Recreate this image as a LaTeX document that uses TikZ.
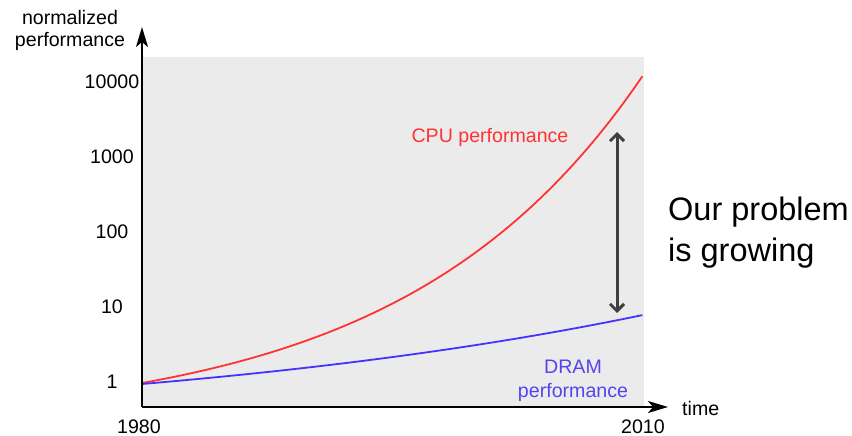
\documentclass[tikz,border=0pt]{standalone}
\usepackage{fontspec}
\setmainfont{Liberation Sans}
\usetikzlibrary{arrows.meta}
\definecolor{plotbg}{HTML}{EBEBEB}
\definecolor{cpured}{HTML}{FF3333}
\definecolor{dramblue}{HTML}{4433FF}
\definecolor{dramtext}{HTML}{5544EE}
\definecolor{gaparrow}{HTML}{3F3F3F}
\begin{document}
\begin{tikzpicture}[x=1pt,y=-1pt,
  lbl/.style={font=\fontsize{19.6}{22}\selectfont, inner sep=0pt},
  big/.style={font=\fontsize{32.5}{36}\selectfont, inner sep=0pt, anchor=base west},
  axisline/.style={line width=2pt, -{Stealth[length=20pt,width=12pt,inset=5pt]}},
  curve/.style={line width=1.8pt}]
\useasboundingbox (0,0) rectangle (852,436);
\fill[plotbg] (142,57) rectangle (644,407);
% curves
\draw[curve, cpured] plot[domain=0:1, samples=120] ({142+501*\x}, {383-42.45*(exp(2.11*\x)-1)});
\draw[curve, dramblue] plot[domain=0:1, samples=120] ({142+501*\x}, {384-48.1*(exp(0.89*\x)-1)});
% axes
\coordinate (o) at (142,407);
\coordinate (ytip) at (142,27);
\coordinate (xtip) at (668,407);
\draw[axisline] (o) -- (ytip);
\draw[axisline] (o) -- (xtip);
% gap arrow
\coordinate (gtop) at (617,132);
\coordinate (gbot) at (617,313);
\draw[gaparrow, line width=3pt, {Straight Barb[length=7pt,width=14pt,line width=3pt]}-{Straight Barb[length=7pt,width=14pt,line width=3pt]}] (gbot) -- (gtop);
% tick labels
\node[lbl] (y4) at (112,82) {10000};
\node[lbl] (y3) at (112,157) {1000};
\node[lbl] (y2) at (112,232) {100};
\node[lbl] (y1) at (112,307) {10};
\node[lbl] (y0) at (112,382) {1};
\node[lbl, anchor=base] (x0) at (139,433) {1980};
\node[lbl, anchor=base] (x1) at (643,433) {2010};
% axis titles
\node[lbl, anchor=base] (yt1) at (70,25) {normalized};
\node[lbl, anchor=base] (yt2) at (70,47) {performance};
\node[lbl, anchor=base west] (xt) at (682,415) {time};
% curve labels
\node[lbl, anchor=base, text=cpured] (cpul) at (490,142) {CPU performance};
\node[lbl, anchor=base, text=dramtext] (dram1) at (573,373) {DRAM};
\node[lbl, anchor=base, text=dramtext] (dram2) at (573,397) {performance};
% comment
\node[big] (c1) at (668,220) {Our problem};
\node[big] (c2) at (668,261) {is growing};
\end{tikzpicture}
\end{document}
